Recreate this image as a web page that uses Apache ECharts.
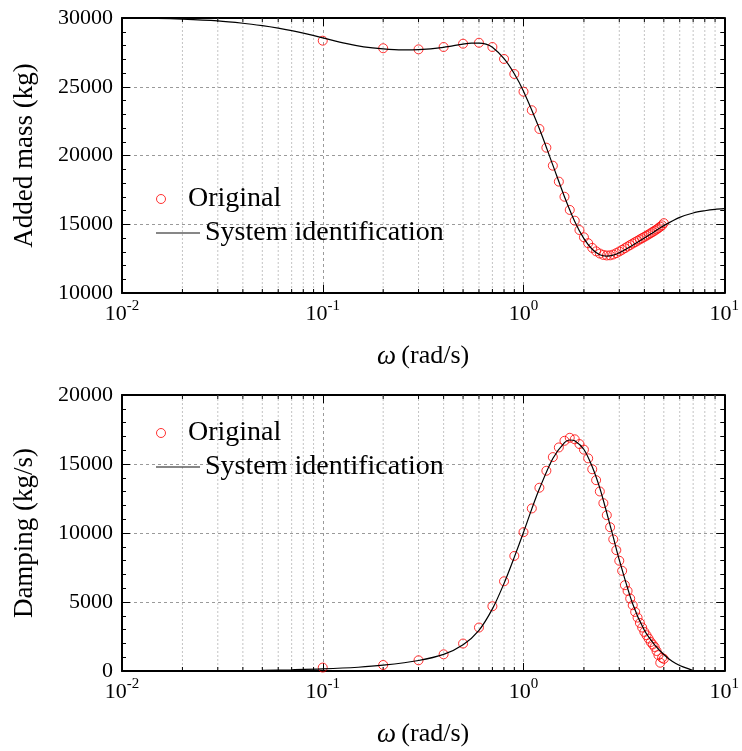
<!DOCTYPE html>
<html>
<head>
<meta charset="utf-8">
<script src="https://cdn.jsdelivr.net/npm/echarts@6/dist/echarts.min.js"></script>
<style>
  html, body { margin: 0; padding: 0; background: #fff; }
  #chart { width: 742px; height: 751px; }
</style>
</head>
<body>
<div id="chart"></div>
<script>
// Frequencies of the original hydrodynamic coefficients (rad/s)
const omega = [
  0.1, 0.2, 0.3, 0.4, 0.5, 0.6, 0.7, 0.8, 0.9, 1.0,
  1.1, 1.2, 1.3, 1.4, 1.5, 1.6, 1.7, 1.8, 1.9, 2.0,
  2.1, 2.2, 2.3, 2.4, 2.5, 2.6, 2.7, 2.8, 2.9, 3.0,
  3.1, 3.2, 3.3, 3.4, 3.5, 3.6, 3.7, 3.8, 3.9, 4.0,
  4.1, 4.2, 4.3, 4.4, 4.5, 4.6, 4.7, 4.8, 4.9, 5.0
];

// Original added mass (kg)
const addedMass = [
  28350, 27800, 27720, 27890, 28130, 28200, 27890, 27020, 25930, 24640,
  23290, 21930, 20570, 19260, 18100, 17000, 16040, 15260, 14580, 14050,
  13620, 13280, 13030, 12870, 12770, 12730, 12740, 12800, 12900, 13020,
  13140, 13260, 13380, 13490, 13600, 13700, 13800, 13900, 13990, 14080,
  14170, 14260, 14350, 14440, 14530, 14620, 14720, 14820, 14920, 15080
];

// Original damping (kg/s)
const damping = [
  250, 435, 776, 1210, 1990, 3150, 4690, 6500, 8340, 10060,
  11780, 13280, 14510, 15500, 16200, 16680, 16900, 16790, 16445, 16040,
  15410, 14620, 13830, 13010, 12160, 11290, 10420, 9540, 8760, 7990,
  7260, 6220, 5800, 5250, 4770, 4280, 3870, 3480, 3150, 2830,
  2590, 2350, 2100, 1920, 1740, 1450, 1150, 600, 950, 880
];

// Identified model response: added mass
const fitMassOmega = [
  0.01, 0.015, 0.02, 0.03, 0.04, 0.05, 0.06, 0.07, 0.08, 0.1,
  0.13, 0.16, 0.2, 0.25, 0.3, 0.4, 0.5, 0.55, 0.6, 0.65,
  0.7, 0.8, 0.9, 1.0, 1.2, 1.4, 1.6, 1.8, 2.0, 2.2,
  2.4, 2.6, 2.8, 3.0, 3.5, 4.0, 4.5, 5.0, 6.0, 7.0,
  8.0, 9.0, 10
];
const fitMass = [
  29990, 29970, 29920, 29790, 29620, 29440, 29260, 29080, 28900, 28560,
  28150, 27900, 27750, 27680, 27700, 27870, 28100, 28170, 28170, 28100,
  27870, 27050, 25950, 24680, 21950, 19300, 17000, 15200, 13950, 13180,
  12780, 12680, 12750, 12930, 13480, 14000, 14480, 14900, 15500, 15820,
  15980, 16080, 16130
];

// Identified model response: damping
const fitDampOmega = [
  0.01, 0.02, 0.03, 0.05, 0.07, 0.1, 0.15, 0.2, 0.3, 0.4,
  0.5, 0.6, 0.7, 0.8, 0.9, 1.0, 1.1, 1.2, 1.4, 1.6,
  1.7, 1.8, 2.0, 2.2, 2.4, 2.6, 2.8, 3.0, 3.5, 4.0,
  4.5, 5.0, 5.5, 6.0, 6.6, 7.2, 8.0, 10
];
const fitDamp = [
  0, 10, 25, 50, 90, 150, 270, 420, 760, 1200,
  1900, 2950, 4500, 6350, 8250, 10050, 11750, 13200, 15400, 16550,
  16740, 16680, 16050, 14800, 13250, 11450, 9700, 8050, 4850, 2950,
  1900, 1200, 700, 400, 170, 0, 0, 0
];

// Log-axis decade labels and intermediate (minor) positions
const decadeExponents = { '0.01': '-2', '0.1': '-1', '1': '0', '10': '1' };
const minorOmega = [
  0.02, 0.03, 0.04, 0.05, 0.06, 0.07, 0.08, 0.09,
  0.2, 0.3, 0.4, 0.5, 0.6, 0.7, 0.8, 0.9,
  2, 3, 4, 5, 6, 7, 8, 9
];

const FONT = "'Liberation Serif', 'Times New Roman', serif";
const AXIS_COLOR = '#000';

function pairs(xs, ys) { return xs.map((x, i) => [x, ys[i]]); }

function xLabel(v) {
  const key = String(+v.toPrecision(6));
  const e = decadeExponents[key];
  return e === undefined ? '' : '{b|10}{s|' + e + '}';
}

function bottomX(gridIndex) {
  return {
    type: 'log', logBase: 10, min: 0.01, max: 10, gridIndex,
    position: 'bottom',
    axisLine: { show: true, onZero: false, lineStyle: { color: AXIS_COLOR, width: 2 } },
    axisTick: { show: true, inside: true, length: 8, lineStyle: { color: AXIS_COLOR, width: 1 } },
    minorTick: { show: false },
    splitLine: { show: true, lineStyle: { color: '#9a9a9a', type: [3, 3], width: 1 } },
    axisLabel: {
      margin: 6, formatter: xLabel, color: '#000',
      rich: {
        b: { fontFamily: FONT, fontSize: 22, lineHeight: 30, color: '#000' },
        s: { fontFamily: FONT, fontSize: 15, lineHeight: 15, verticalAlign: 'top', color: '#000' }
      }
    },
    name: '{w|ω}{r|\u2009(rad/s)}',
    nameLocation: 'middle', nameGap: 50,
    nameTextStyle: {
      rich: {
        w: { fontFamily: FONT, fontSize: 27, fontStyle: 'italic', color: '#000' },
        r: { fontFamily: FONT, fontSize: 26, color: '#000' }
      }
    }
  };
}

function topX(gridIndex) {
  return {
    type: 'log', logBase: 10, min: 0.01, max: 10, gridIndex,
    position: 'top',
    axisLine: { show: true, onZero: false, lineStyle: { color: AXIS_COLOR, width: 2 } },
    axisTick: { show: true, inside: true, length: 8, lineStyle: { color: AXIS_COLOR, width: 1 } },
    axisLabel: { show: false },
    splitLine: { show: false }
  };
}

function leftY(gridIndex, min, max, name, gap) {
  return {
    type: 'value', gridIndex, min, max, interval: 5000, position: 'left',
    axisLine: { show: true, onZero: false, lineStyle: { color: AXIS_COLOR, width: 2 } },
    axisTick: { show: true, inside: true, length: 8, lineStyle: { color: AXIS_COLOR, width: 1 } },
    minorTick: { show: true, splitNumber: 5, length: 4, lineStyle: { color: AXIS_COLOR, width: 1 } },
    splitLine: { show: true, lineStyle: { color: '#9a9a9a', type: [3, 3], width: 1 } },
    axisLabel: {
      margin: 9, fontFamily: FONT, fontSize: 22, color: '#000',
      formatter: v => String(v)
    },
    name, nameLocation: 'middle', nameGap: gap,
    nameTextStyle: { fontFamily: FONT, fontSize: 27, color: '#000' }
  };
}

function rightY(gridIndex, min, max) {
  return {
    type: 'value', gridIndex, min, max, interval: 5000, position: 'right',
    axisLine: { show: true, onZero: false, lineStyle: { color: AXIS_COLOR, width: 2 } },
    axisTick: { show: true, inside: true, length: 8, lineStyle: { color: AXIS_COLOR, width: 1 } },
    minorTick: { show: true, splitNumber: 5, length: 4, lineStyle: { color: AXIS_COLOR, width: 1 } },
    splitLine: { show: false },
    axisLabel: { show: false }
  };
}

// Dotted minor gridlines plus inward ticks on the bottom and top frame edges
function minorRender(params, api) {
  const x = api.coord([api.value(0), api.value(1)])[0];
  const cs = params.coordSys;
  const top = cs.y, bot = cs.y + cs.height;
  return {
    type: 'group',
    children: [
      { type: 'line', shape: { x1: x, y1: top, x2: x, y2: bot },
        style: { stroke: '#c4c4c4', lineWidth: 1, lineDash: [2, 2] } },
      { type: 'line', shape: { x1: x, y1: bot, x2: x, y2: bot - 4 },
        style: { stroke: AXIS_COLOR, lineWidth: 1 } },
      { type: 'line', shape: { x1: x, y1: top, x2: x, y2: top + 4 },
        style: { stroke: AXIS_COLOR, lineWidth: 1 } }
    ]
  };
}

function minorSeries(xAxisIndex, yAxisIndex, yMin) {
  return {
    type: 'custom', xAxisIndex, yAxisIndex, silent: true, z: 1,
    renderItem: minorRender,
    encode: { x: 0, y: 1 },
    data: minorOmega.map(v => [v, yMin])
  };
}

const markerStyle = { color: 'transparent', borderColor: '#ff0000', borderWidth: 1 };

function legendPair(top1, top2) {
  return [
    {
      data: [{ name: 'Original', icon: 'circle', itemStyle: { color: 'transparent', borderColor: '#ff0000', borderWidth: 1 } }],
      left: 156, top: top1, padding: 0, itemWidth: 44, itemHeight: 9, selectedMode: false,
      textStyle: { fontFamily: FONT, fontSize: 28, color: '#000' }
    },
    {
      data: [{ name: 'System identification', icon: 'rect', itemStyle: { color: '#111' } }],
      left: 156, top: top2, padding: 0, itemWidth: 44, itemHeight: 1, selectedMode: false,
      textStyle: { fontFamily: FONT, fontSize: 28, color: '#000' }
    }
  ];
}

const chart = echarts.init(document.getElementById('chart'), null, { renderer: 'canvas' });

chart.setOption({
  animation: false,
  backgroundColor: '#fff',
  grid: [
    { left: 122, top: 18, width: 605, height: 275, containLabel: false },
    { left: 122, top: 395, width: 605, height: 276, containLabel: false }
  ],
  legend: [].concat(legendPair(185, 219), legendPair(419, 453)),
  xAxis: [bottomX(0), topX(0), bottomX(1), topX(1)],
  yAxis: [
    leftY(0, 10000, 30000, 'Added mass (kg)', 84),
    rightY(0, 10000, 30000),
    leftY(1, 0, 20000, 'Damping (kg/s)', 84),
    rightY(1, 0, 20000)
  ],
  series: [
    minorSeries(0, 0, 10000),
    minorSeries(2, 2, 0),
    {
      name: 'Original', type: 'scatter', xAxisIndex: 0, yAxisIndex: 0,
      symbol: 'circle', symbolSize: 9, itemStyle: markerStyle, z: 3,
      data: pairs(omega, addedMass)
    },
    {
      name: 'System identification', type: 'line', xAxisIndex: 0, yAxisIndex: 0,
      symbol: 'none', smooth: 0.3, lineStyle: { color: '#000', width: 1.2 }, z: 4,
      data: pairs(fitMassOmega, fitMass)
    },
    {
      name: 'Original', type: 'scatter', xAxisIndex: 2, yAxisIndex: 2,
      symbol: 'circle', symbolSize: 9, itemStyle: markerStyle, z: 3,
      data: pairs(omega, damping)
    },
    {
      name: 'System identification', type: 'line', xAxisIndex: 2, yAxisIndex: 2,
      symbol: 'none', smooth: 0.3, lineStyle: { color: '#000', width: 1.2 }, z: 4,
      data: pairs(fitDampOmega, fitDamp)
    }
  ]
});
</script>
</body>
</html>
